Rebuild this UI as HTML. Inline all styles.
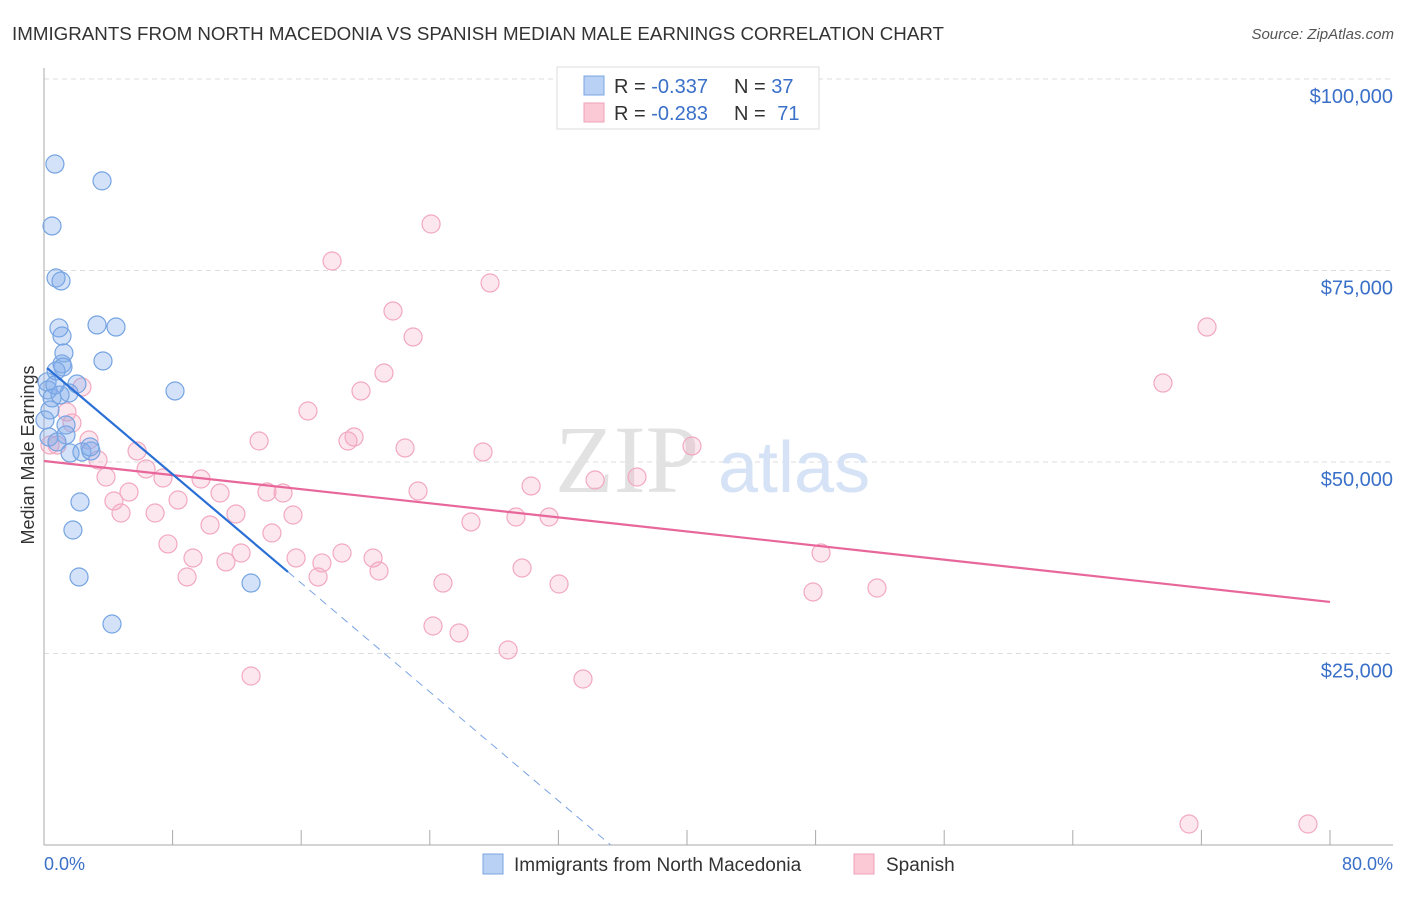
<!DOCTYPE html>
<html><head><meta charset="utf-8"><style>
body{margin:0;background:#fff;font-family:"Liberation Sans",sans-serif}
</style></head><body>
<svg width="1406" height="892" xmlns="http://www.w3.org/2000/svg" id="svg" font-family="Liberation Sans, sans-serif">
<text x="12" y="40" font-size="18" fill="#333" textLength="932" lengthAdjust="spacingAndGlyphs">IMMIGRANTS FROM NORTH MACEDONIA VS SPANISH MEDIAN MALE EARNINGS CORRELATION CHART</text>
<text x="1394" y="39" font-size="15" fill="#555" text-anchor="end" font-style="italic">Source: ZipAtlas.com</text>
<g id="grid"></g>
<text x="555" y="492" font-size="96" fill="#e2e2e2" font-family="Liberation Serif, serif">ZIP</text>
<text x="718" y="492" font-size="72" fill="#d6e2f5">atlas</text>
<line x1="44" y1="68" x2="44" y2="845" stroke="#aaa"/>
<line x1="44" y1="845" x2="1393" y2="845" stroke="#aaa"/>
<g id="ticks"></g>
<g id="ylabels"></g>
<text x="44" y="870" font-size="18" fill="#3a70c8">0.0%</text>
<text x="1393" y="870" font-size="18" fill="#3a70c8" text-anchor="end">80.0%</text>
<text transform="translate(34,455) rotate(-90)" font-size="18" fill="#333" text-anchor="middle">Median Male Earnings</text>
<g id="pts"></g>
<g id="lines"></g>
<g>
<rect x="557" y="67" width="262" height="62" fill="#fff" stroke="#ddd"/>
<rect x="584" y="76" width="20" height="19" fill="#b9d1f5" stroke="#7ba4e2"/>
<rect x="584" y="103" width="20" height="19" fill="#fbc8d6" stroke="#f0a0b8"/>
<text x="614" y="93" font-size="20" fill="#333">R = <tspan fill="#3a70c8">-0.337</tspan></text>
<text x="734" y="93" font-size="20" fill="#333">N = <tspan fill="#3a70c8">37</tspan></text>
<text x="614" y="120" font-size="20" fill="#333">R = <tspan fill="#3a70c8">-0.283</tspan></text>
<text x="734" y="120" font-size="20" fill="#333">N = <tspan fill="#3a70c8" dx="6">71</tspan></text>
</g>
<g>
<rect x="483" y="854" width="20" height="20" fill="#b9d1f5" stroke="#7ba4e2"/>
<text x="514" y="871" font-size="19" fill="#333">Immigrants from North Macedonia</text>
<rect x="854" y="854" width="20" height="20" fill="#fbc8d6" stroke="#f0a0b8"/>
<text x="886" y="871" font-size="19" fill="#333">Spanish</text>
</g>
</svg>
<script>
const blueX=[0.68,3.61,0.50,0.75,1.06,0.93,3.30,4.48,1.12,1.24,1.12,3.67,1.18,0.75,0.19,2.05,0.25,1.56,8.15,0.50,0.37,1.37,0.31,1.37,0.81,1.62,2.36,2.92,2.24,1.80,2.18,12.88,4.23,1.0,0.06,2.86,0.68];
const blueY=[88900,86700,80810,74020,73630,67500,67890,67620,66450,64230,62800,63190,62400,61880,60450,60180,59400,59010,59270,58360,56790,54830,53260,53530,52610,51180,51310,51440,44780,41120,34990,34200,28850,58750,55480,51960,60050];
const pinkX=[24.08,17.92,27.75,21.71,72.35,22.96,21.15,69.61,2.36,19.72,16.42,1.43,1.74,2.80,13.38,19.29,18.91,22.46,27.31,40.31,0.81,3.36,5.79,6.35,7.40,3.86,9.77,34.28,36.89,30.30,23.27,10.95,13.87,14.87,5.29,8.34,4.35,15.49,11.94,4.79,6.91,10.33,26.56,29.36,31.42,14.18,7.71,12.26,48.34,9.27,11.32,15.68,18.54,20.47,17.29,20.84,29.74,8.90,17.05,24.82,32.04,47.84,51.82,24.20,25.82,28.87,12.88,33.53,71.23,78.63,0.37];
const pinkY=[81070,76240,73370,69710,67620,66320,61620,60310,59790,59270,56660,56530,55090,52870,52740,53260,52740,51830,51310,52090,52220,50260,51440,49090,47910,48040,47780,47650,48040,46870,46210,45950,46080,45950,46080,45040,44910,43080,43210,43340,43340,41780,42170,42820,42820,40730,39300,38120,38120,37470,36950,37470,38120,37470,36820,35770,36160,34990,34990,34200,34070,33030,33550,28590,27680,25460,22060,21670,2740,2740,52220];
const blueTrend=[62610,-1776]; const blueSolidEnd=[0.19,15.18]; const blueDashEnd=35.25;
const pinkTrend=[50130,-230]; const pinkRange=[0,80];
const yTicks=[25000,50000,75000,100000];
const yTickLabels=["$25,000","$50,000","$75,000","$100,000"];
const xTicks=[0,8,16,24,32,40,48,56,64,72,80];
const X=v=>44+v*16.075, Y=v=>845-v*0.00766;
const NS="http://www.w3.org/2000/svg";
function mk(tag,parent,attrs){const e=document.createElementNS(NS,tag);for(const k in attrs)e.setAttribute(k,attrs[k]);document.getElementById(parent).appendChild(e);return e;}
yTicks.forEach((t,i)=>{
 const l=mk('line','grid',{x1:44,x2:1393,y1:Y(t),y2:Y(t),stroke:'#ddd','stroke-dasharray':'5,4'});
 
 
 const tx=mk('text','ylabels',{x:1393,y:Y(t)+24,'font-size':20,fill:'#3a70c8','text-anchor':'end'});
 tx.textContent=yTickLabels[i];
 
 
});
xTicks.forEach(t=>{
 const l=mk('line','ticks',{x1:X(t),x2:X(t),y1:830,y2:845,stroke:'#aaa'});
 
 
});
pinkX.forEach((x,i)=>{
 const c=mk('circle','pts',{cx:X(x),cy:Y(pinkY[i]),r:9,fill:'rgba(246,170,195,0.28)',stroke:'#f2a8c0','stroke-width':1.2});
 
 
});
blueX.forEach((x,i)=>{
 const c=mk('circle','pts',{cx:X(x),cy:Y(blueY[i]),r:9,fill:'rgba(130,172,235,0.35)',stroke:'#76a4e2','stroke-width':1.2});
 
 
});
const bl=x=>blueTrend[0]+blueTrend[1]*x, pl=x=>pinkTrend[0]+pinkTrend[1]*x;
let e=mk('line','lines',{x1:X(pinkRange[0]),y1:Y(pl(pinkRange[0])),x2:X(pinkRange[1]),y2:Y(pl(pinkRange[1])),stroke:'#e8679a','stroke-width':2.2});


e=mk('line','lines',{x1:X(blueSolidEnd[1]),y1:Y(bl(blueSolidEnd[1])),x2:X(blueDashEnd),y2:Y(bl(blueDashEnd)),stroke:'#7ba4e2','stroke-width':1,'stroke-dasharray':'8,6'});


e=mk('line','lines',{x1:X(blueSolidEnd[0]),y1:Y(bl(blueSolidEnd[0])),x2:X(blueSolidEnd[1]),y2:Y(bl(blueSolidEnd[1])),stroke:'#2a6fd6','stroke-width':2.2});


</script>
</body></html>
